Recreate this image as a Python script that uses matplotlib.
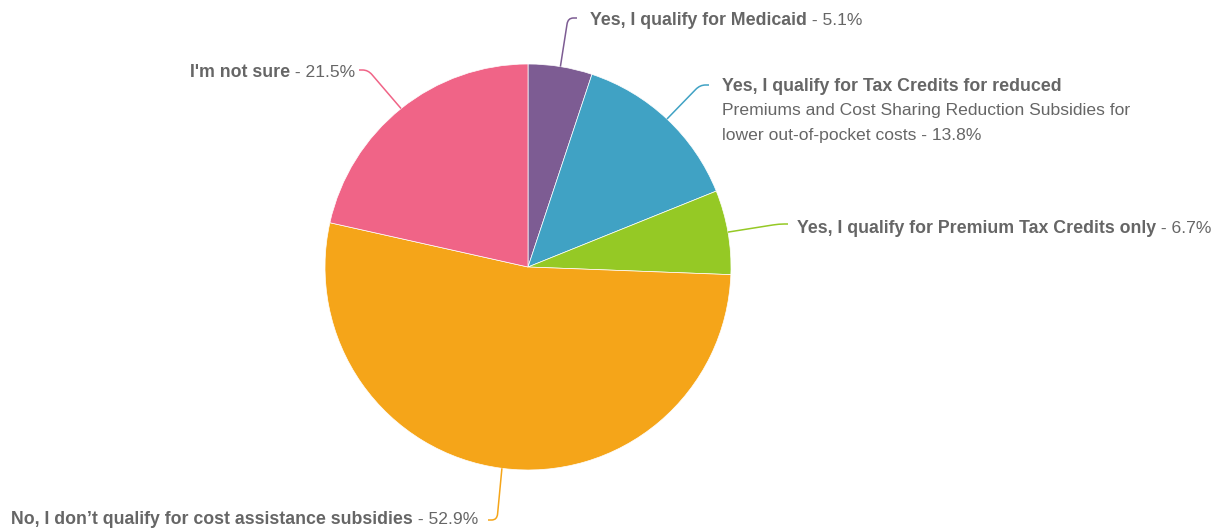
import matplotlib.pyplot as plt
from matplotlib.path import Path
from matplotlib.patches import PathPatch
import numpy as np

W, H = 1232, 529

# survey answers and their shares (%)
answers = ["Yes, I qualify for Medicaid",
           "Yes, I qualify for Tax Credits for reduced",
           "Yes, I qualify for Premium Tax Credits only",
           "No, I don\u2019t qualify for cost assistance subsidies",
           "I'm not sure"]
answer_tail = ["", "Premiums and Cost Sharing Reduction Subsidies for\nlower out-of-pocket costs", "", "", ""]
shares = [5.1, 13.8, 6.7, 52.9, 21.5]
colors = ["#7d5c93", "#40a2c4", "#95c925", "#f5a519", "#f06487"]

# label layout in pixels (y from top): connector elbow, text baseline anchor, side
elbows = [(568, 18), (700, 85), (779, 224), (497, 520), (368, 70)]
anchors = [(590, 25), (722, 91), (797, 233), (478, 524), (355, 77)]
sides = ["left", "left", "left", "right", "right"]

txt_color = "#666666"
plt.rcParams['font.family'] = ['Liberation Sans', 'DejaVu Sans']
plt.rcParams['font.size'] = 12.6
bold_size = 12.75


def flip(x, y):
    return x, H - y


fig = plt.figure(figsize=(W / 100, H / 100), dpi=100, facecolor='white')
ax = fig.add_axes([0, 0, 1, 1])

wedges, _ = ax.pie(shares, colors=colors, startangle=90, counterclock=False,
                   radius=203, center=flip(528, 267),
                   wedgeprops=dict(edgecolor='white', linewidth=0.5))
ax.set_xlim(0, W)
ax.set_ylim(0, H)
ax.set_aspect('auto')
ax.axis('off')
renderer = fig.canvas.get_renderer()


def text_width(t):
    bb = t.get_window_extent(renderer)
    return bb.width * W / fig.bbox.width


for i, w in enumerate(wedges):
    mid = np.radians((w.theta1 + w.theta2) / 2)
    cx, cy = w.center
    p0 = np.array([cx + w.r * np.cos(mid), cy + w.r * np.sin(mid)])
    e = np.array(flip(*elbows[i]))
    step = 9 if sides[i] == "left" else -9
    end = e + [step, 0]
    a = e + (p0 - e) / np.linalg.norm(p0 - e) * 6
    b = e + [step * 0.6, 0]
    path = Path([p0, a, e, b, end],
                [Path.MOVETO, Path.LINETO, Path.CURVE3, Path.CURVE3, Path.LINETO])
    ax.add_patch(PathPatch(path, fill=False, edgecolor=colors[i], lw=1.1))

    x, y = flip(*anchors[i])
    value = f" - {shares[i]}%"
    if answer_tail[i]:
        ax.text(x, y, answers[i], fontweight='bold', color=txt_color,
                fontsize=bold_size, ha='left', va='baseline')
        lines = (answer_tail[i] + value).split("\n")
        for k, line in enumerate(lines):
            ax.text(x, y - 24.5 * (k + 1), line, color=txt_color,
                    ha='left', va='baseline')
    elif sides[i] == "left":
        bold = ax.text(x, y, answers[i], fontweight='bold', color=txt_color,
                       fontsize=bold_size, ha='left', va='baseline')
        ax.text(x + text_width(bold), y, value, color=txt_color,
                ha='left', va='baseline')
    else:
        val = ax.text(x, y, value, color=txt_color, ha='right', va='baseline')
        ax.text(x - text_width(val), y, answers[i], color=txt_color,
                fontweight='bold', fontsize=bold_size, ha='right', va='baseline')

fig.savefig("out.png", dpi=100, facecolor='white')
